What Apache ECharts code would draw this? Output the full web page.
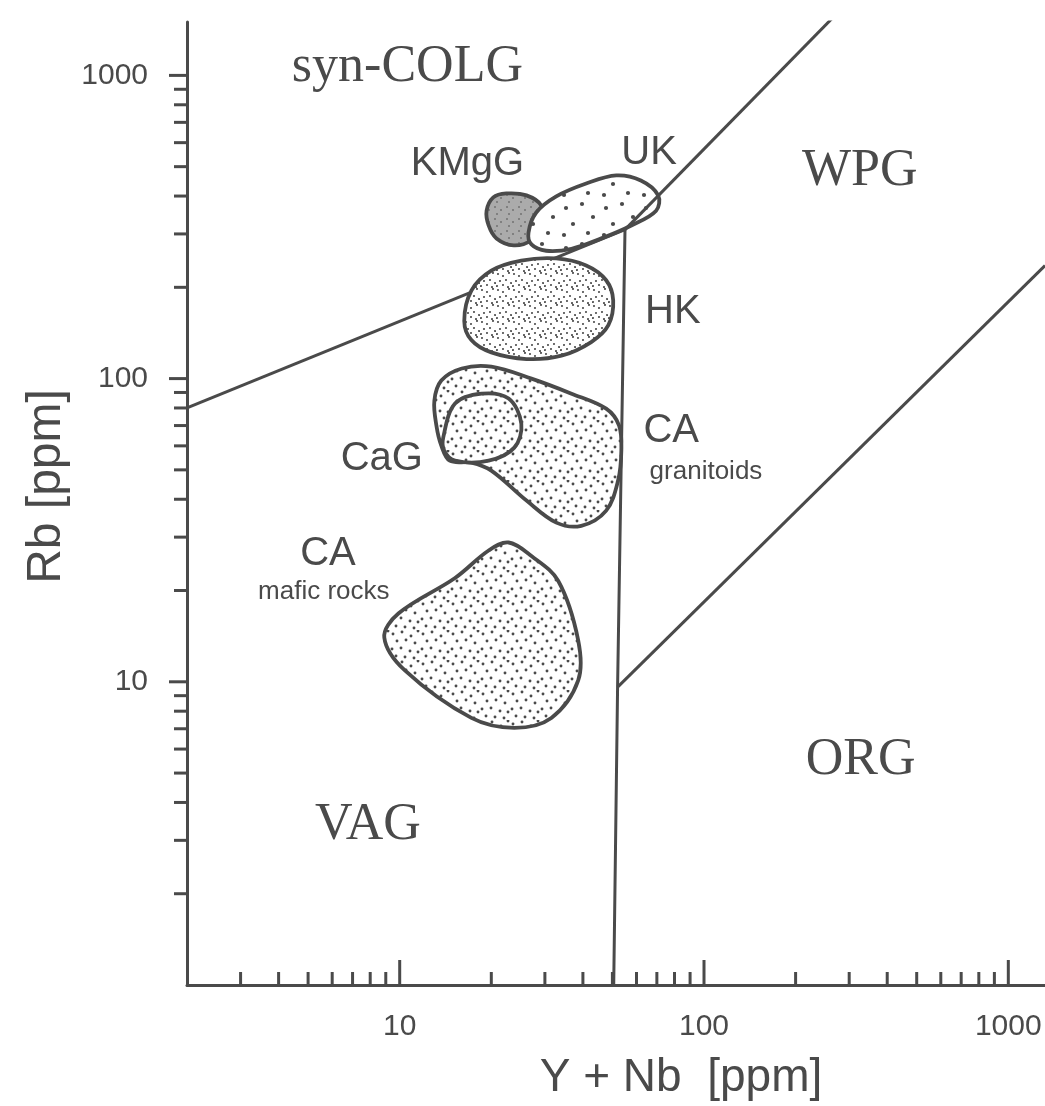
<!DOCTYPE html>
<html>
<head>
<meta charset="utf-8">
<script src="https://cdn.jsdelivr.net/npm/echarts@6/dist/echarts.min.js"></script>
<style>
  html, body { margin: 0; padding: 0; background: #fff; }
  #chart { width: 1045px; height: 1106px; }
</style>
</head>
<body>
<div id="chart"></div>
<script>
// axis ranges (Y+Nb on x, Rb on y, both log)
var xMin = 2, xMax = 1320;
var yMin = 1, yMax = 1500;

// tick values
var xMajorTicks = [10, 100, 1000];
var xMinorTicks = [3, 4, 5, 6, 7, 8, 9, 20, 30, 40, 50, 60, 70, 80, 90, 200, 300, 400, 500, 600, 700, 800, 900];
var yMajorTicks = [10, 100, 1000];
var yMinorTicks = [2, 3, 4, 5, 6, 7, 8, 9, 20, 30, 40, 50, 60, 70, 80, 90, 200, 300, 400, 500, 600, 700, 800, 900];

// discrimination boundaries [Y+Nb, Rb]
var lineColgVag = [[2, 80], [55, 310]];
var lineWpgColg = [[55, 310], [265, 1550]];
var lineVagWpg = [[55, 310], [52, 9.6], [50.5, 1]];
var lineWpgOrg = [[52, 9.6], [1320, 236]];

// fields [Y+Nb, Rb]
var fieldKMgG = [[19.3, 358], [20.3, 396], [22.4, 408], [26.1, 402], [29.2, 372], [29.7, 320], [27.1, 286], [23.7, 275], [20.8, 290], [19.6, 320]];
var fieldUK = [[26.5, 303], [28.1, 353], [32.7, 399], [41, 440], [51.5, 468], [62, 450], [70.7, 402], [69.6, 358], [57.7, 320], [46, 290], [36.7, 268], [30.3, 264], [27.1, 277]];
var fieldHK = [[16.3, 155], [17.2, 195], [20, 227], [25.1, 245], [32.7, 249], [41, 236], [47.7, 211], [50.3, 181], [48.5, 150], [42.6, 132], [34, 119], [26.1, 116], [20, 122], [17.2, 134]];
var fieldCAgran = [[13, 84.6], [13.7, 98.5], [16, 108], [20, 109.5], [27.1, 100], [36.7, 89.2], [47.7, 79.6], [52.6, 70], [53.5, 57.9], [52.2, 46.1], [47.7, 36.7], [39.5, 32.7], [32.7, 33.5], [26.1, 39.6], [20, 49.7], [17.2, 52.8], [14.6, 53.6], [13.7, 60.1], [13.2, 70]];
var fieldCaG = [[13.9, 63.9], [15.2, 82.7], [18.6, 89.2], [22.8, 85.9], [25.1, 71], [23.8, 59.2], [19.6, 53.6], [15.2, 53.6], [14, 57.9]];
var fieldCAmafic = [[22.8, 28.8], [27.1, 26], [33.2, 21.5], [38.6, 13.7], [38.6, 10.1], [31.5, 7.6], [23.8, 7.05], [17.2, 7.6], [10.4, 10.9], [8.9, 14], [9.9, 16.8], [15.2, 22], [19.6, 27.1]];

// region labels and where they sit [Y+Nb, Rb]
var labelTexts = ['syn-COLG', 'WPG', 'ORG', 'VAG', 'KMgG', 'UK', 'HK', 'CA', 'granitoids', 'CaG', 'CA', 'mafic rocks'];
var labelAnchors = [[10.6, 1063], [325, 482], [327, 5.49], [7.86, 3.35], [16.7, 512], [66, 553], [79, 166], [78, 67.3], [101.5, 49.3], [8.73, 54.5], [5.81, 26.45], [5.63, 19.8]];

var ink = '#4a4a4a';
var serif = '"Liberation Serif", "Times New Roman", serif';
var sans = '"Liberation Sans", Arial, sans-serif';
var labelFonts = [
  '52px ' + serif, '52px ' + serif, '52px ' + serif, '52px ' + serif,
  '40px ' + sans, '40px ' + sans, '40px ' + sans, '40px ' + sans,
  '26px ' + sans, '40px ' + sans, '40px ' + sans, '26px ' + sans
];

// stipple tiles
function stipple(size, dots, r, bg) {
  var c = document.createElement('canvas');
  c.width = size; c.height = size;
  var ctx = c.getContext('2d');
  ctx.fillStyle = bg;
  ctx.fillRect(0, 0, size, size);
  ctx.fillStyle = ink;
  dots.forEach(function (d) {
    ctx.beginPath();
    ctx.arc(d[0], d[1], r, 0, Math.PI * 2);
    ctx.fill();
  });
  return { image: c, repeat: 'repeat' };
}
var dotsMedium = stipple(30, [[3,4],[12,2],[21,6],[28,1],[7,11],[16,10],[25,13],[2,19],[11,18],[20,21],[28,22],[6,26],[15,27],[24,28]], 1.45, '#fff');
var dotsFine = stipple(16, [[2,2],[7,4],[13,1],[4,9],[10,8],[15,11],[1,14],[7,13],[12,15]], 1.05, '#fff');
var dotsCoarse = stipple(40, [[6,8],[22,4],[33,17],[13,24],[28,33],[4,35]], 2.1, '#fff');
var dotsGrey = stipple(12, [[3,3],[9,6],[5,10]], 0.8, '#ababab');

function fieldSeries(pts, fill, z) {
  return {
    type: 'custom', z: z, silent: true,
    data: pts,
    renderItem: function (params, api) {
      if (params.dataIndex !== 0) return null;
      var points = pts.map(function (p) { return api.coord(p); });
      return {
        type: 'polygon',
        shape: { points: points, smooth: 0.35 },
        style: { fill: fill, stroke: ink, lineWidth: 3.8 }
      };
    }
  };
}

function boundary(pts) {
  return {
    type: 'line', z: 2, data: pts, symbol: 'none', silent: true,
    lineStyle: { color: ink, width: 3 }
  };
}

function tickSeries(values, onX, len) {
  return {
    type: 'custom', z: 6, silent: true, clip: false,
    data: values.map(function (v) { return onX ? [v, yMin] : [xMin, v]; }),
    renderItem: function (params, api) {
      var p = api.coord([api.value(0), api.value(1)]);
      var shape = onX
        ? { x1: p[0], y1: p[1], x2: p[0], y2: p[1] - len }
        : { x1: p[0], y1: p[1], x2: p[0] - len, y2: p[1] };
      return { type: 'line', shape: shape, style: { stroke: ink, lineWidth: 3 } };
    }
  };
}

function plain(v) { return String(Math.round(v)); }

var chart = echarts.init(document.getElementById('chart'));
chart.setOption({
  animation: false,
  backgroundColor: '#fff',
  grid: { left: 187, right: 0, top: 22, bottom: 119 },
  xAxis: {
    type: 'log', logBase: 10, min: xMin, max: xMax,
    axisLine: { lineStyle: { color: ink, width: 3 } },
    axisTick: { show: false },
    splitLine: { show: false },
    axisLabel: { showMinLabel: false, showMaxLabel: false, color: ink, fontSize: 30, fontFamily: sans, margin: 27, formatter: plain },
    name: 'Y + Nb  [ppm]', nameLocation: 'middle', nameGap: 70,
    nameTextStyle: { color: ink, fontSize: 46, fontFamily: sans, padding: [0, 0, 0, 130] }
  },
  yAxis: {
    type: 'log', logBase: 10, min: yMin, max: yMax,
    axisLine: { lineStyle: { color: ink, width: 3 } },
    axisTick: { show: false },
    splitLine: { show: false },
    axisLabel: { showMinLabel: false, showMaxLabel: false, color: ink, fontSize: 30, fontFamily: sans, margin: 39, formatter: plain },
    name: 'Rb [ppm]', nameLocation: 'middle', nameGap: 114,
    nameTextStyle: { color: ink, fontSize: 48, fontFamily: sans, padding: [0, 0, 0, 34] }
  },
  series: [
    boundary(lineColgVag),
    boundary(lineWpgColg),
    boundary(lineVagWpg),
    boundary(lineWpgOrg),
    fieldSeries(fieldKMgG, dotsGrey, 1),
    fieldSeries(fieldUK, dotsCoarse, 1),
    fieldSeries(fieldHK, dotsFine, 3),
    fieldSeries(fieldCAgran, dotsMedium, 3),
    fieldSeries(fieldCaG, dotsMedium, 4),
    fieldSeries(fieldCAmafic, dotsMedium, 3),
    tickSeries(xMajorTicks, true, 25),
    tickSeries(xMinorTicks, true, 13),
    tickSeries(yMajorTicks, false, 18),
    tickSeries(yMinorTicks, false, 13),
    {
      type: 'custom', z: 7, silent: true, clip: false,
      data: labelAnchors,
      renderItem: function (params, api) {
        var p = api.coord([api.value(0), api.value(1)]);
        return {
          type: 'text', x: p[0], y: p[1],
          style: {
            text: labelTexts[params.dataIndex], font: labelFonts[params.dataIndex], fill: ink,
            align: 'center', verticalAlign: 'middle', textAlign: 'center', textVerticalAlign: 'middle'
          }
        };
      }
    }
  ]
});
</script>
</body>
</html>
